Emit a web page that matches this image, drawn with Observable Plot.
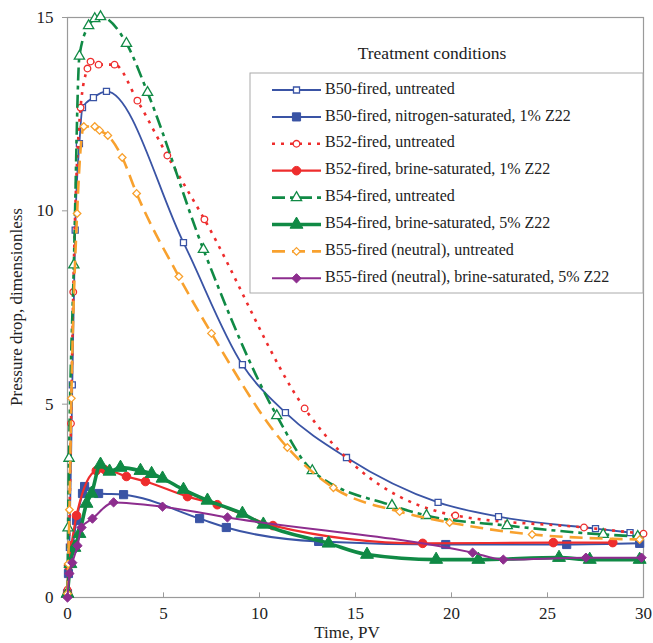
<!DOCTYPE html>
<html><head><meta charset="utf-8">
<script src="https://cdn.jsdelivr.net/npm/d3@7"></script>
<script src="https://cdn.jsdelivr.net/npm/@observablehq/plot@0.6"></script>
<style>
body{margin:0;background:#fff}
#chart{width:653px;height:643px;position:relative}
#chart svg text{font-family:"Liberation Serif" !important;}
</style>
</head><body><div id="chart"></div>
<script>
// ---- data ----
const xTicks = [0, 5, 10, 15, 20, 25, 30];
const yTicks = [0, 5, 10, 15];
const xLabel = "Time, PV";
const yLabel = "Pressure drop, dimensionless";
const legendTitle = "Treatment conditions";
const seriesNames = [
  "B50-fired, untreated",
  "B50-fired, nitrogen-saturated, 1% Z22",
  "B52-fired, untreated",
  "B52-fired, brine-saturated, 1% Z22",
  "B54-fired, untreated",
  "B54-fired, brine-saturated, 5% Z22",
  "B55-fired (neutral), untreated",
  "B55-fired (neutral), brine-saturated, 5% Z22"
];
const b50Untreated = [[0,0.1],[0.1,1.3],[0.25,5.5],[0.4,9.5],[0.62,11.74],[0.78,12.67],[1.35,12.93],[2.03,13.09],[6.04,9.18],[9.11,6.02],[11.35,4.78],[14.53,3.62],[19.3,2.46],[22.45,2.09],[27.5,1.78],[29.3,1.68]];
const b50Nitrogen = [[0,0.1],[0.05,0.62],[0.25,1.27],[0.47,1.99],[0.78,2.69],[0.89,2.87],[1.62,2.69],[2.92,2.66],[6.88,2.04],[8.27,1.81],[13.08,1.45],[19.7,1.37],[26.0,1.37],[29.8,1.4]];
const b52Untreated = [[0,0.2],[0.05,0.8],[0.18,4.5],[0.3,7.9],[0.68,12.67],[1.04,13.68],[1.2,13.86],[1.62,13.78],[2.45,13.78],[3.64,12.85],[5.2,11.43],[7.13,9.78],[12.35,4.89],[20.2,2.12],[26.9,1.81],[30,1.65]];
const b52Brine = [[0,0.1],[0.05,0.82],[0.2,1.34],[0.47,2.12],[1.5,3.28],[1.93,3.31],[3.07,3.13],[4.06,3.0],[6.25,2.61],[7.8,2.4],[10.7,1.86],[18.5,1.4],[25.3,1.42],[28.4,1.42]];
const b54Untreated = [[0,0.1],[0.03,1.8],[0.08,3.6],[0.33,8.6],[0.62,14.0],[1.1,14.79],[1.42,14.97],[1.72,15.02],[3.07,14.33],[4.17,13.06],[7.08,9.0],[10.9,4.7],[12.75,3.28],[16.9,2.38],[18.7,2.12],[22.9,1.86],[27.9,1.63],[29.7,1.58]];
const b54Brine = [[0,0.1],[0.15,0.87],[0.36,1.29],[0.62,1.65],[0.99,2.43],[1.25,2.69],[1.72,3.44],[2.19,3.26],[2.76,3.36],[3.8,3.28],[4.38,3.2],[4.95,3.08],[6.04,2.79],[7.29,2.51],[9.11,2.17],[10.2,1.89],[13.6,1.4],[15.6,1.11],[19.2,0.98],[21.4,0.98],[25.6,1.03],[27.2,0.98],[29.8,0.98]];
const b55Untreated = [[0,0.1],[0.04,0.87],[0.1,2.27],[0.2,5.15],[0.5,9.93],[0.85,12.18],[1.42,12.18],[1.67,12.08],[2.1,11.95],[2.85,11.38],[3.6,10.45],[5.8,8.3],[7.5,6.83],[11.45,3.88],[13.85,2.84],[17.3,2.22],[19.9,1.94],[24.2,1.63],[29.8,1.5]];
const b55Brine = [[0,0.0],[0.1,0.62],[0.25,0.9],[0.52,1.34],[0.73,1.81],[1.3,2.04],[2.4,2.46],[4.95,2.35],[8.33,2.07],[21.1,1.16],[22.7,0.98],[27.0,1.03],[29.9,1.03]];

// ---- styles ----
const BLUE = "#3a54a5", RED = "#ee2d2d", GREEN = "#108a45", ORANGE = "#f8a12e", PURPLE = "#8d2d8e";
const series = [
  {data: b50Untreated, color: BLUE,   width: 1.8, dash: null,       symbol: "square",   open: true,  r: 3.4},
  {data: b50Nitrogen,  color: BLUE,   width: 2.0, dash: null,       symbol: "square",   open: false, r: 4.6},
  {data: b52Untreated, color: RED,    width: 2.6, dash: "3,6",      symbol: "circle",   open: true,  r: 3.3},
  {data: b52Brine,     color: RED,    width: 2.2, dash: null,       symbol: "circle",   open: false, r: 4.3},
  {data: b54Untreated, color: GREEN,  width: 2.6, dash: "13,5,4,5", symbol: "triangle", open: true,  r: 3.8},
  {data: b54Brine,     color: GREEN,  width: 3.6, dash: null,       symbol: "triangle", open: false, r: 4.8},
  {data: b55Untreated, color: ORANGE, width: 2.6, dash: "13,7",     symbol: "diamond2", open: true,  r: 3.4},
  {data: b55Brine,     color: PURPLE, width: 2.0, dash: null,       symbol: "diamond2", open: false, r: 4.2}
].map((s, i) => ({...s, name: seriesNames[i]}));

const W = 653, H = 643;
const mL = 67, mR = 10, mT = 17, mB = 46;

const marks = [
  Plot.frame({stroke: "#9a9a9a", strokeWidth: 1.2}),
  Plot.axisY({ticks: yTicks, tickSize: 5, tickPadding: 9, label: null, fontSize: 17, stroke: "#9a9a9a"}),
  Plot.axisX({ticks: xTicks, tickSize: 0, tickPadding: 9, label: null, fontSize: 17}),
  Plot.ruleX(xTicks, {x: d => d, y1: 0, y2: 0.12, stroke: "#9a9a9a"})
];
for (const s of series) {
  marks.push(Plot.line(s.data, {
    x: d => d[0], y: d => d[1], stroke: s.color, strokeWidth: s.width,
    strokeDasharray: s.dash || undefined, curve: "monotone-x", strokeLinecap: "butt"
  }));
  marks.push(Plot.dot(s.data, {
    x: d => d[0], y: d => d[1], symbol: () => s.symbol, r: s.r,
    fill: s.open ? "white" : s.color, stroke: s.color, strokeWidth: s.open ? 1.3 : 1
  }));
}

const chart = Plot.plot({
  width: W, height: H,
  marginLeft: mL, marginRight: mR, marginTop: mT, marginBottom: mB,
  x: {domain: [0, 30]},
  y: {domain: [0, 15]},
  style: {fontSize: "17px", color: "#222", background: "white", overflow: "visible"},
  marks
});
document.getElementById("chart").appendChild(chart);

// ---- axis titles & legend ----
const svg = d3.select(chart);
const sy = (mT + (H - mB)) / 2;
function addText(sel, size) {
  return sel.append("text").style("font-size", size + "px").attr("fill", "#222");
}
addText(svg, 17).attr("x", 347).attr("y", 634).attr("text-anchor", "middle")
  .attr("dominant-baseline", "middle").text(xLabel);
addText(svg, 17).attr("transform", `translate(18,${sy}) rotate(-90)`).attr("text-anchor", "middle")
  .attr("dominant-baseline", "middle").text(yLabel);

const lg = svg.append("g");
addText(lg, 17.5).attr("x", 432).attr("y", 55).attr("text-anchor", "middle").attr("dominant-baseline", "middle")
  .text(legendTitle);
lg.append("rect").attr("x", 250).attr("y", 73).attr("width", 393).attr("height", 220)
  .attr("fill", "white").attr("stroke", "#aaa").attr("stroke-width", 1);
const symMap = {square: d3.symbolSquare, circle: d3.symbolCircle, triangle: d3.symbolTriangle, diamond2: d3.symbolDiamond2};
series.forEach((s, i) => {
  const y = 90 + i * 26.9;
  lg.append("line").attr("x1", 272).attr("x2", 321).attr("y1", y).attr("y2", y)
    .attr("stroke", s.color).attr("stroke-width", s.width).attr("stroke-dasharray", s.dash || null);
  lg.append("path").attr("transform", `translate(296.5,${y})`)
    .attr("d", d3.symbol(symMap[s.symbol], Math.PI * s.r * s.r)())
    .attr("fill", s.open ? "white" : s.color).attr("stroke", s.color).attr("stroke-width", s.open ? 1.3 : 1);
  addText(lg, 16).attr("x", 325).attr("y", y).attr("text-anchor", "start").attr("dominant-baseline", "middle")
    .text(s.name);
});
</script>
</body></html>
